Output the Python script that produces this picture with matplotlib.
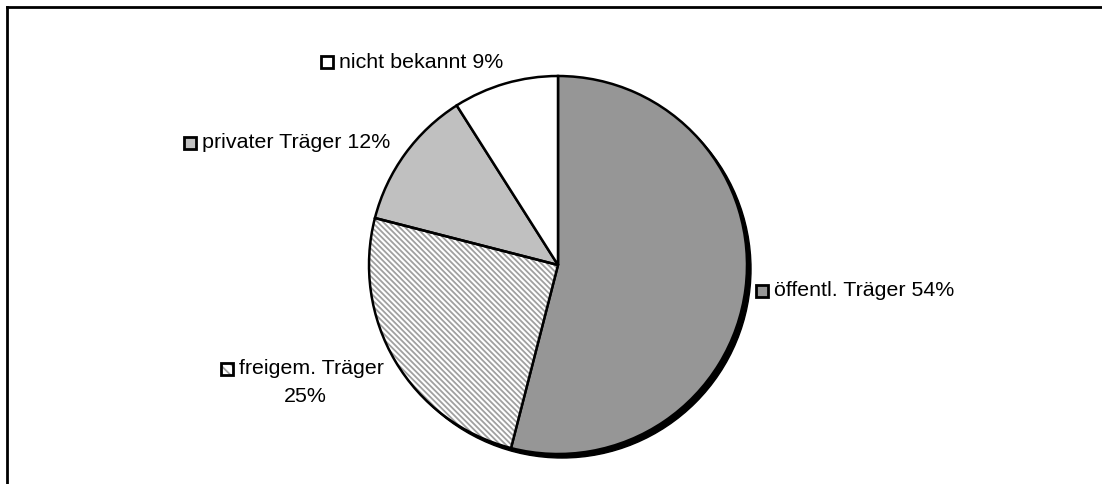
import matplotlib
matplotlib.use("Agg")
from matplotlib import pyplot as plt
from matplotlib.patches import Circle, Rectangle, Wedge
from matplotlib.lines import Line2D

plt.rcParams['font.family'] = ['Liberation Sans', 'DejaVu Sans']
plt.rcParams['hatch.linewidth'] = 1.3

# data, clockwise from 12 o'clock
labels = ["öffentl. Träger", "freigem. Träger", "privater Träger", "nicht bekannt"]
shares = [54, 25, 12, 9]
label_text = ["öffentl. Träger 54%", "freigem. Träger\n25%", "privater Träger 12%", "nicht bekannt 9%"]

colors = ["#969696", "white", "#c0c0c0", "white"]
hatches = [None, "\\\\\\\\\\\\", None, None]

W, H = 1102, 484
dpi = 100
fig = plt.figure(figsize=(W / dpi, H / dpi), dpi=dpi)
ax = fig.add_axes([0, 0, 1, 1])

cx, cy, r = 558, H - 265, 189

# shadow
ax.add_patch(Circle((cx + 4, cy - 4), r, facecolor="black", edgecolor="black", lw=1, zorder=1))

wedges, _ = ax.pie(shares, colors=colors, startangle=90, counterclock=False,
                   center=(cx, cy), radius=r, frame=True,
                   wedgeprops=dict(edgecolor="black", linewidth=1.8, zorder=2))
ax.set_xlim(0, W)
ax.set_ylim(0, H)
ax.set_aspect('equal')
ax.axis('off')

for w, h in zip(wedges, hatches):
    if h:
        w.set_hatch(h)
        w.set_edgecolor("#a0a0a0")
        w.set_linewidth(0)
        ax.add_patch(Wedge(w.center, w.r, w.theta1, w.theta2, facecolor="none",
                           edgecolor="black", linewidth=1.8, zorder=3))

# label anchors (left edge of key box, text centre line) in pixels from top-left
anchors = [(756, 291), (221, 369), (184, 143), (321, 62)]
box = 12
fs = 15.4
for (x, y), txt, c, h in zip(anchors, label_text, colors, hatches):
    yy = H - y
    key = Rectangle((x, yy - box / 2), box, box, facecolor=c,
                    edgecolor="#a0a0a0" if h else "black", hatch="\\\\\\" if h else None,
                    lw=0 if h else 2, zorder=4)
    ax.add_patch(key)
    if h:
        ax.add_patch(Rectangle((x, yy - box / 2), box, box, facecolor="none",
                               edgecolor="black", lw=2, zorder=5))
    if "\n" in txt:
        first, second = txt.split("\n")
        ax.text(x + box + 6, yy, first, fontsize=fs, va="center", ha="left", zorder=5)
        ax.text(x + 84, yy - 27, second, fontsize=fs, va="center", ha="center", zorder=5)
    else:
        ax.text(x + box + 6, yy, txt, fontsize=fs, va="center", ha="left", zorder=5)

# outer frame (only top and left visible)
fig.add_artist(Line2D([7 / W, 7 / W], [0, 1 - 7 / H], color="black", lw=2))
fig.add_artist(Line2D([7 / W, 1], [1 - 7 / H, 1 - 7 / H], color="black", lw=2))

fig.savefig("out.png", dpi=dpi, facecolor="white")
